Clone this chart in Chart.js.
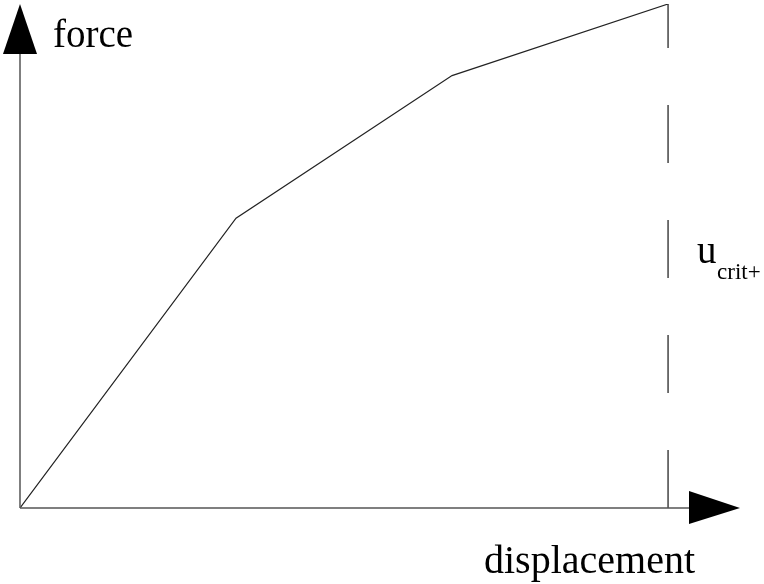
<!DOCTYPE html>
<html>
<head>
<meta charset="utf-8">
<script src="https://cdn.jsdelivr.net/npm/chart.js@4"></script>
<style>
    html, body { margin: 0; padding: 0; background: #fff; }
    #wrap { width: 764px; height: 584px; }
</style>
</head>
<body>
<div id="wrap"><canvas id="myChart"></canvas></div>
<script>
// force-displacement curve (piecewise linear)
const displacement = [0, 1, 2, 3];
const force = [0, 0.575, 0.858, 1.0];

// critical displacement marker
const critX = [3, 3];
const critY = [0, 1];

const xMax = 3.333;
const yMax = 1.0;

const labelFont = '"Liberation Serif", "Times New Roman", serif';

const toPoints = (xs, ys) => xs.map((x, i) => ({ x: x, y: ys[i] }));

// axes with arrow heads + text labels
const axisArrows = {
    id: 'axisArrows',
    afterDatasetsDraw(chart) {
        const ctx = chart.ctx;
        const x = chart.scales.x;
        const y = chart.scales.y;
        const x0 = x.getPixelForValue(0);
        const y0 = y.getPixelForValue(0);
        const xEnd = x.getPixelForValue(xMax);
        const yEnd = y.getPixelForValue(yMax);

        ctx.save();
        ctx.strokeStyle = '#555';
        ctx.lineWidth = 1.5;
        ctx.beginPath();
        ctx.moveTo(x0, y0);
        ctx.lineTo(xEnd - 50, y0);
        ctx.moveTo(x0, y0);
        ctx.lineTo(x0, yEnd + 50);
        ctx.stroke();

        ctx.fillStyle = '#000';
        ctx.beginPath();
        ctx.moveTo(xEnd, y0);
        ctx.lineTo(xEnd - 51, y0 - 17);
        ctx.lineTo(xEnd - 51, y0 + 16);
        ctx.closePath();
        ctx.fill();

        ctx.beginPath();
        ctx.moveTo(x0, yEnd);
        ctx.lineTo(x0 - 17, yEnd + 50);
        ctx.lineTo(x0 + 17, yEnd + 50);
        ctx.closePath();
        ctx.fill();

        ctx.textBaseline = 'alphabetic';
        ctx.textAlign = 'left';
        ctx.font = '39px ' + labelFont;
        ctx.fillText('force', x0 + 33, yEnd + 43);
        ctx.textAlign = 'right';
        ctx.font = '40px ' + labelFont;
        ctx.fillText('displacement', xEnd - 45, y0 + 65);

        const cx = x.getPixelForValue(3);
        ctx.textAlign = 'left';
        ctx.font = '39px ' + labelFont;
        ctx.fillText('u', cx + 29, 263);
        ctx.font = '23px ' + labelFont;
        ctx.fillText('crit+', cx + 49, 279);
        ctx.restore();
    }
};

new Chart(document.getElementById('myChart'), {
    type: 'line',
    data: {
        datasets: [{
            label: 'force',
            data: toPoints(displacement, force),
            borderColor: '#222',
            borderWidth: 1.2,
            pointRadius: 0,
            tension: 0
        }, {
            label: 'u crit+',
            data: toPoints(critX, critY),
            borderColor: '#444',
            borderWidth: 1.5,
            borderDash: [58, 57],
            pointRadius: 0,
            tension: 0
        }]
    },
    options: {
        responsive: true,
        maintainAspectRatio: false,
        animation: false,
        layout: {
            padding: { left: 20, top: 4, right: 24, bottom: 76 }
        },
        plugins: {
            legend: { display: false },
            tooltip: { enabled: false }
        },
        scales: {
            x: { type: 'linear', min: 0, max: xMax, display: false },
            y: { type: 'linear', min: 0, max: yMax, display: false }
        }
    },
    plugins: [axisArrows]
});
</script>
</body>
</html>
